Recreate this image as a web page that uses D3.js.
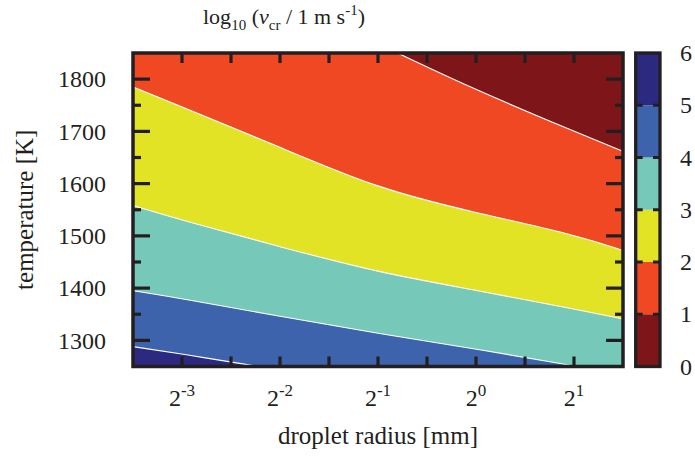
<!DOCTYPE html>
<html><head><meta charset="utf-8">
<script src="https://cdn.jsdelivr.net/npm/d3@7"></script>
<style>
body{margin:0;background:#fff}
text{font-family:"Liberation Serif","Times New Roman",serif;fill:#231f20}
</style>
</head><body>
<svg id="chart" width="695" height="457"></svg>
<script>
// ---- data ----
const colorLevels = [0, 1, 2, 3, 4, 5, 6];
const bandColors = ["#7e1518", "#ef4823", "#e3e325", "#76c9b9", "#3e63ad", "#2b2a80"];
const xTickExponents = [-3, -2, -1, 0, 1];
const xAllTickExponents = [-3, -2.5, -2, -1.5, -1, -0.5, 0, 0.5, 1];
const yMajorTicks = [1300, 1400, 1500, 1600, 1700, 1800];
const yMinorTicks = [1350, 1450, 1550, 1650, 1750];
// contour boundaries: [log2(radius/mm), temperature K]
const contour1 = [[-0.8, 1850], [0, 1779], [1, 1700], [1.5, 1662]];
const contour2 = [[-3.5, 1785], [-3, 1747], [-2, 1670], [-1, 1590], [0, 1544], [1, 1503], [1.5, 1472]];
const contour3 = [[-3.5, 1558], [-3, 1530], [-2, 1479], [-1, 1430], [0, 1396], [1, 1360], [1.5, 1341]];
const contour4 = [[-3.5, 1395], [-3, 1380], [-2, 1346], [-1, 1313], [0, 1284], [1.03, 1250]];
const contour5 = [[-3.5, 1288], [-3, 1274], [-2.22, 1250]];

// ---- layout ----
const svg = d3.select("#chart");
const L = 133, R = 623, T = 53, B = 366.5;
const x = d3.scaleLog().base(2).domain([2 ** -3.5, 2 ** 1.5]).range([L, R]);
const y = d3.scaleLinear().domain([1250, 1850]).range([B, T]);
const [xd0, xd1] = x.domain().map(Math.log2);
const [yd0, yd1] = y.domain();
const ink = "#231f20";

svg.append("clipPath").attr("id", "plotclip")
  .append("rect").attr("x", L).attr("y", T).attr("width", R - L).attr("height", B - T);

const plot = svg.append("g").attr("clip-path", "url(#plotclip)");
const lineGen = d3.line().x(d => x(2 ** d[0])).y(d => y(d[1])).curve(d3.curveBasis);

// background band (0-1)
plot.append("rect").attr("x", L).attr("y", T).attr("width", R - L).attr("height", B - T)
  .attr("fill", bandColors[0]);

const corners = (pts) => {
  // close the region below/left of a boundary along the frame
  const end = pts[pts.length - 1], start = pts[0];
  const c = [];
  if (end[0] >= xd1 - 1e-6) c.push([xd1, yd0]);
  c.push([xd0, yd0]);
  if (start[1] >= yd1 - 1e-6 && start[0] > xd0) c.push([xd0, yd1]);
  return c;
};

const contours = [contour1, contour2, contour3, contour4, contour5];
contours.forEach((pts, i) => {
  const extra = corners(pts).map(p => `L${x(2 ** p[0])},${y(p[1])}`).join("");
  plot.append("path").attr("d", lineGen(pts) + extra + "Z").attr("fill", bandColors[i + 1]);
});
contours.forEach(pts => {
  plot.append("path").attr("d", lineGen(pts)).attr("fill", "none")
    .attr("stroke", "#fff").attr("stroke-width", 1.1);
});

// ticks
const tk = svg.append("g").attr("stroke", ink).attr("stroke-width", 3.2);
xAllTickExponents.forEach(e => {
  const px = x(2 ** e);
  tk.append("line").attr("x1", px).attr("x2", px).attr("y1", B).attr("y2", B - 10);
  tk.append("line").attr("x1", px).attr("x2", px).attr("y1", T).attr("y2", T + 10);
});
yMajorTicks.forEach(v => {
  tk.append("line").attr("x1", L).attr("x2", L + 17).attr("y1", y(v)).attr("y2", y(v));
  tk.append("line").attr("x1", R).attr("x2", R - 17).attr("y1", y(v)).attr("y2", y(v));
});
yMinorTicks.forEach(v => {
  tk.append("line").attr("x1", L).attr("x2", L + 8).attr("y1", y(v)).attr("y2", y(v));
  tk.append("line").attr("x1", R).attr("x2", R - 8).attr("y1", y(v)).attr("y2", y(v));
});

// frame
svg.append("rect").attr("x", L).attr("y", T).attr("width", R - L).attr("height", B - T)
  .attr("fill", "none").attr("stroke", ink).attr("stroke-width", 3.5);

// tick labels
yMajorTicks.forEach(v => {
  svg.append("text").attr("x", 106).attr("y", y(v)).attr("dy", "0.34em")
    .attr("text-anchor", "end").attr("font-size", 24).text(v);
});
xTickExponents.forEach(e => {
  const t = svg.append("text").attr("x", x(2 ** e)).attr("y", 406)
    .attr("text-anchor", "middle").attr("font-size", 24);
  t.append("tspan").text("2");
  t.append("tspan").attr("dy", -10).attr("font-size", 17).text(String(e));
});

// axis titles
svg.append("text").attr("x", (L + R) / 2).attr("y", 444).attr("text-anchor", "middle")
  .attr("font-size", 25).text("droplet radius [mm]");
svg.append("text").attr("transform", `translate(33,${(T + B) / 2}) rotate(-90)`)
  .attr("text-anchor", "middle").attr("font-size", 25).text("temperature [K]");

// title
const title = svg.append("text").attr("x", 284).attr("y", 24).attr("text-anchor", "middle")
  .attr("font-size", 22);
title.append("tspan").text("log");
title.append("tspan").attr("dy", 6).attr("font-size", 15).text("10");
title.append("tspan").attr("dy", -6).text(" (");
title.append("tspan").attr("font-style", "italic").text("v");
title.append("tspan").attr("dy", 6).attr("font-size", 15).text("cr");
title.append("tspan").attr("dy", -6).text(" / 1 m s");
title.append("tspan").attr("dy", -9).attr("font-size", 15).text("-1");
title.append("tspan").attr("dy", 9).text(")");

// colorbar
const cbL = 635.7, cbR = 660;
const cy = d3.scaleLinear().domain([0, 6]).range([B, T]);
const cb = svg.append("g");
bandColors.forEach((c, i) => {
  cb.append("rect").attr("x", cbL).attr("width", cbR - cbL)
    .attr("y", cy(colorLevels[i + 1])).attr("height", cy(colorLevels[i]) - cy(colorLevels[i + 1]))
    .attr("fill", c);
});
colorLevels.slice(1, -1).forEach(v => {
  cb.append("line").attr("x1", cbL).attr("x2", cbL + 7).attr("y1", cy(v)).attr("y2", cy(v))
    .attr("stroke", ink).attr("stroke-width", 3);
  cb.append("line").attr("x1", cbR).attr("x2", cbR - 7).attr("y1", cy(v)).attr("y2", cy(v))
    .attr("stroke", ink).attr("stroke-width", 3);
});
cb.append("rect").attr("x", cbL).attr("y", T).attr("width", cbR - cbL).attr("height", B - T)
  .attr("fill", "none").attr("stroke", ink).attr("stroke-width", 3.3);
colorLevels.forEach(v => {
  svg.append("text").attr("x", 680).attr("y", cy(v)).attr("dy", "0.34em")
    .attr("font-size", 24).text(v);
});
</script>
</body></html>
